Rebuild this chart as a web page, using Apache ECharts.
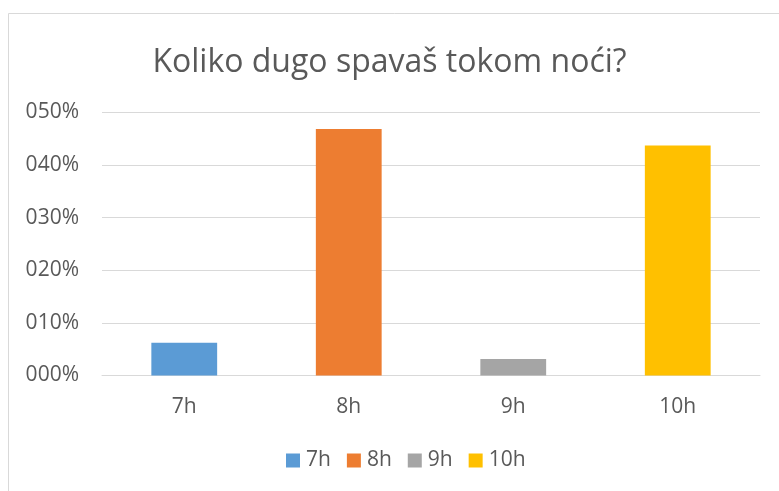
<!DOCTYPE html>
<html>
<head>
<meta charset="utf-8">
<script src="https://cdn.jsdelivr.net/npm/echarts@6/dist/echarts.min.js"></script>
<style>
  html, body { margin: 0; padding: 0; background: #fff; }
  #chart { width: 779px; height: 491px; }
</style>
</head>
<body>
<div id="chart"></div>
<script>
// 数据
const titleText = 'Koliko dugo spavaš tokom noći?';
const categories = ['7h', '8h', '9h', '10h'];
const shares = [0.0625, 0.46875, 0.03125, 0.4375];
const barColors = ['#5B9BD5', '#ED7D31', '#A5A5A5', '#FFC000'];

const FONT = '"Open Sans", "Noto Sans", sans-serif';
const TEXT = '#595959';

// Excel "000%" format
function pct(v) {
  return String(Math.round(v * 100)).padStart(3, '0') + '%';
}

const chart = echarts.init(document.getElementById('chart'), null, { renderer: 'canvas' });

const series = categories.map((name, i) => ({
  name,
  type: 'bar',
  stack: 'all',
  barWidth: '40%',
  itemStyle: { color: barColors[i] },
  data: categories.map((c, j) => (j === i ? shares[i] : '-'))
}));

chart.setOption({
  backgroundColor: '#fff',
  animation: false,
  textStyle: { fontFamily: FONT },
  title: {
    text: titleText,
    left: 'center',
    top: 47,
    padding: [0, 0, 0, 41],
    textStyle: { fontFamily: FONT, fontSize: 32, fontWeight: 'normal', color: TEXT }
  },
  legend: {
    data: categories,
    left: 286,
    top: 450,
    padding: 0,
    itemWidth: 14,
    itemHeight: 14,
    itemGap: 16,
    icon: 'rect',
    textStyle: { fontFamily: FONT, fontSize: 21, color: TEXT, padding: [0, 0, 0, 1] }
  },
  graphic: [{
    type: 'rect',
    shape: { x: 8.5, y: 13.5, width: 800, height: 500 },
    style: { fill: 'none', stroke: '#d9d9d9', lineWidth: 1 },
    silent: true
  }],
  grid: { left: 102, right: 19, top: 112.5, bottom: 115.5, containLabel: false },
  xAxis: {
    type: 'category',
    data: categories,
    axisLine: { lineStyle: { color: '#d9d9d9', width: 1 } },
    axisTick: { show: false },
    axisLabel: { fontFamily: FONT, fontSize: 21, color: TEXT, margin: 21 }
  },
  yAxis: {
    type: 'value',
    min: 0,
    max: 0.5,
    interval: 0.1,
    axisLine: { show: false },
    axisTick: { show: false },
    splitLine: { lineStyle: { color: '#d9d9d9', width: 1 } },
    axisLabel: { fontFamily: FONT, fontSize: 21, color: TEXT, margin: 23, formatter: pct }
  },
  series
});
</script>
</body>
</html>
